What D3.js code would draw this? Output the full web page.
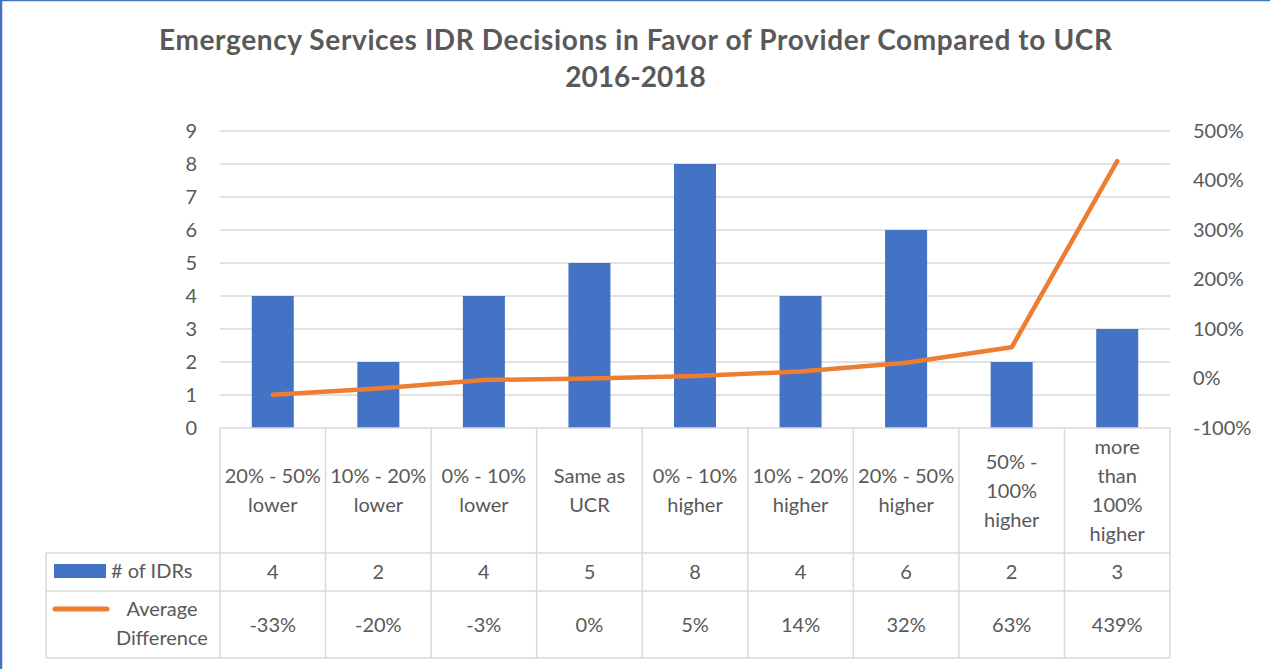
<!DOCTYPE html>
<html>
<head>
<meta charset="utf-8">
<script src="https://cdn.jsdelivr.net/npm/d3@7"></script>
<style>
  body { margin: 0; background: #fff; }
  svg text { font-family: Lato, "Open Sans", sans-serif; fill: #595959; }
</style>
</head>
<body>
<div id="container"></div>
<script>
const categories = [
  ["20% - 50%", "lower"],
  ["10% - 20%", "lower"],
  ["0% - 10%", "lower"],
  ["Same as", "UCR"],
  ["0% - 10%", "higher"],
  ["10% - 20%", "higher"],
  ["20% - 50%", "higher"],
  ["50% -", "100%", "higher"],
  ["more", "than", "100%", "higher"]
];
const idrCounts = [4, 2, 4, 5, 8, 4, 6, 2, 3];
const avgDiff = [-0.33, -0.20, -0.03, 0.00, 0.05, 0.14, 0.32, 0.63, 4.39];
const avgDiffLabels = ["-33%", "-20%", "-3%", "0%", "5%", "14%", "32%", "63%", "439%"];
const leftTicks = [0, 1, 2, 3, 4, 5, 6, 7, 8, 9];
const rightTicks = [-1, 0, 1, 2, 3, 4, 5];

const W = 1270, H = 669;
const plot = { left: 220, right: 1170, top: 131, bottom: 428 };
const tableRows = { header: 553, count: 591, bottom: 658 };
const legendLeft = 46;
const fs = "20px";

const svg = d3.select("#container")
  .append("svg")
  .attr("width", W)
  .attr("height", H);

// chart frame (blue edge at top / left)
svg.append("rect").attr("x", 0).attr("y", 0).attr("width", W).attr("height", H).attr("fill", "#fff");
svg.append("line").attr("x1", 1).attr("x2", 1).attr("y1", 0).attr("y2", H)
  .attr("stroke", "#4472C4").attr("stroke-width", 2.5);
svg.append("line").attr("x1", 0).attr("x2", W).attr("y1", 0.5).attr("y2", 0.5)
  .attr("stroke", "#4472C4").attr("stroke-width", 1.5);

const x = d3.scaleBand()
  .domain(d3.range(categories.length))
  .range([plot.left, plot.right])
  .paddingInner(0)
  .paddingOuter(0);

const y = d3.scaleLinear()
  .domain([0, 9])
  .range([plot.bottom, plot.top]);

const y2 = d3.scaleLinear()
  .domain([-1, 5])
  .range([plot.bottom, plot.top]);

// title
svg.append("text")
  .attr("x", 635.5).attr("y", 50)
  .attr("text-anchor", "middle")
  .attr("textLength", 953)
  .attr("lengthAdjust", "spacing")
  .style("font-size", "28px").style("font-weight", "bold")
  .text("Emergency Services IDR Decisions in Favor of Provider Compared to UCR");
svg.append("text")
  .attr("x", 635.5).attr("y", 87)
  .attr("text-anchor", "middle")
  .style("font-size", "28px").style("font-weight", "bold")
  .text("2016-2018");

// gridlines
svg.append("g")
  .selectAll("line")
  .data(leftTicks.filter(d => d > 0))
  .join("line")
  .attr("x1", plot.left).attr("x2", plot.right)
  .attr("y1", d => y(d)).attr("y2", d => y(d))
  .attr("stroke", "#d9d9d9").attr("stroke-width", 1.5);

// left axis
const leftAxis = svg.append("g")
  .attr("transform", `translate(${plot.left},0)`)
  .call(d3.axisLeft(y).tickValues(leftTicks).tickSize(0).tickPadding(23));
leftAxis.select(".domain").remove();
leftAxis.selectAll("text").style("font-size", fs).attr("fill", "#595959");

// right axis
const pct = d => Math.round(d * 100) + "%";
const rightAxis = svg.append("g")
  .attr("transform", `translate(${plot.right},0)`)
  .call(d3.axisRight(y2).tickValues(rightTicks).tickFormat(pct).tickSize(0).tickPadding(23));
rightAxis.select(".domain").remove();
rightAxis.selectAll("text").style("font-size", fs).attr("fill", "#595959");

// bars
const barW = 42;
svg.append("g")
  .selectAll("rect")
  .data(idrCounts)
  .join("rect")
  .attr("x", (d, i) => x(i) + x.bandwidth() / 2 - barW / 2)
  .attr("y", d => y(d))
  .attr("width", barW)
  .attr("height", d => y(0) - y(d))
  .attr("fill", "#4472C4");

// line
svg.append("path")
  .datum(avgDiff)
  .attr("fill", "none")
  .attr("stroke", "#ED7D31")
  .attr("stroke-width", 4.5)
  .attr("stroke-linecap", "round")
  .attr("stroke-linejoin", "round")
  .attr("d", d3.line()
    .x((d, i) => x(i) + x.bandwidth() / 2)
    .y(d => y2(d)));

// data table
const grid = svg.append("g").attr("stroke", "#d9d9d9").attr("stroke-width", 1.5);
const colEdges = d3.range(categories.length + 1).map(i => i < categories.length ? x(i) : plot.right);
grid.selectAll("line.v")
  .data(colEdges)
  .join("line")
  .attr("class", "v")
  .attr("x1", d => d).attr("x2", d => d)
  .attr("y1", plot.bottom).attr("y2", tableRows.bottom);
grid.append("line").attr("x1", legendLeft).attr("x2", legendLeft)
  .attr("y1", tableRows.header).attr("y2", tableRows.bottom);
grid.append("line").attr("x1", plot.left).attr("x2", plot.right)
  .attr("y1", plot.bottom).attr("y2", plot.bottom);
[tableRows.header, tableRows.count, tableRows.bottom].forEach(yy => {
  grid.append("line").attr("x1", legendLeft).attr("x2", plot.right)
    .attr("y1", yy).attr("y2", yy);
});

const lineH = 29;
const headMid = (plot.bottom + tableRows.header) / 2;
const header = svg.append("g");
categories.forEach((lines, i) => {
  const cx = x(i) + x.bandwidth() / 2;
  const t = header.append("text")
    .attr("text-anchor", "middle")
    .style("font-size", fs);
  lines.forEach((ln, j) => {
    t.append("tspan")
      .attr("x", cx)
      .attr("y", headMid + (j - (lines.length - 1) / 2) * lineH + 7)
      .text(ln);
  });
});

svg.append("g")
  .selectAll("text")
  .data(idrCounts)
  .join("text")
  .attr("x", (d, i) => x(i) + x.bandwidth() / 2)
  .attr("y", (tableRows.header + tableRows.count) / 2 + 7)
  .attr("text-anchor", "middle")
  .style("font-size", fs)
  .text(d => d);

svg.append("g")
  .selectAll("text")
  .data(avgDiffLabels)
  .join("text")
  .attr("x", (d, i) => x(i) + x.bandwidth() / 2)
  .attr("y", (tableRows.count + tableRows.bottom) / 2 + 7)
  .attr("text-anchor", "middle")
  .style("font-size", fs)
  .text(d => d);

// legend keys in table
svg.append("rect")
  .attr("x", 54).attr("y", 564).attr("width", 52).attr("height", 14)
  .attr("fill", "#4472C4");
svg.append("text")
  .attr("x", 111).attr("y", 578)
  .style("font-size", fs)
  .text("# of IDRs");
svg.append("line")
  .attr("x1", 55).attr("x2", 107).attr("y1", 609).attr("y2", 609)
  .attr("stroke", "#ED7D31").attr("stroke-width", 5).attr("stroke-linecap", "round");
const legText = svg.append("text").attr("text-anchor", "middle").style("font-size", fs);
legText.append("tspan").attr("x", 162).attr("y", 616).text("Average");
legText.append("tspan").attr("x", 162).attr("y", 645).text("Difference");
</script>
</body>
</html>
